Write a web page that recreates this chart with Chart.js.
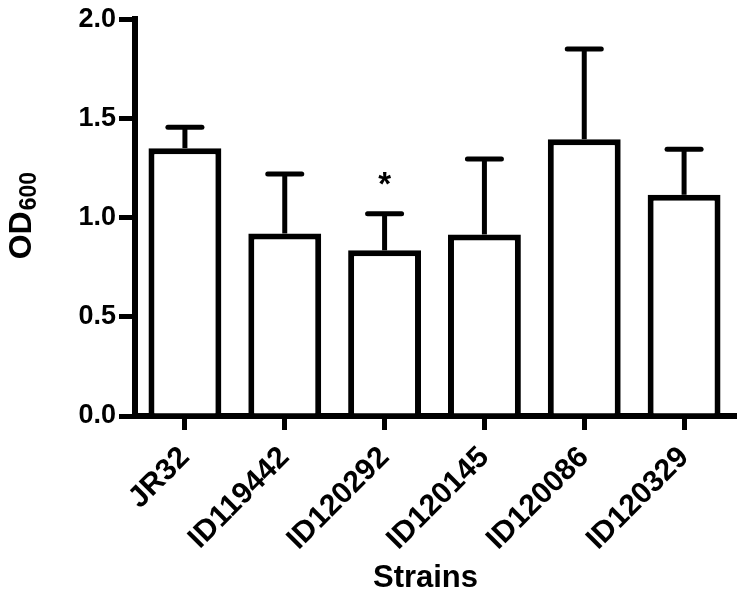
<!DOCTYPE html>
<html>
<head>
<meta charset="utf-8">
<script src="https://cdn.jsdelivr.net/npm/chart.js@4.4.1/dist/chart.umd.min.js"></script>
<style>
  html, body { margin: 0; padding: 0; background: #fff; }
  #wrap { width: 741px; height: 597px; }
</style>
</head>
<body>
<div id="wrap"><canvas id="c" width="741" height="597"></canvas></div>
<script>
// ---- data ----
const strains = ['JR32', 'ID119442', 'ID120292', 'ID120145', 'ID120086', 'ID120329'];
const od600 = [1.35, 0.92, 0.835, 0.915, 1.395, 1.115];
const od600Error = [0.105, 0.30, 0.185, 0.38, 0.455, 0.23];
const significance = ['', '', '*', '', '', ''];
const yTicks = [0, 0.5, 1.0, 1.5, 2.0];

const FONT = '"Liberation Sans", Arial, Helvetica, sans-serif';

const errorBarPlugin = {
  id: 'errorBars',
  afterDatasetsDraw(chart) {
    const ctx = chart.ctx;
    const meta = chart.getDatasetMeta(0);
    const y = chart.scales.y;
    ctx.save();
    ctx.strokeStyle = '#000';
    ctx.fillStyle = '#000';
    meta.data.forEach((bar, i) => {
      const x = bar.x;
      const yTop = y.getPixelForValue(od600[i]);
      const yErr = y.getPixelForValue(od600[i] + od600Error[i]);
      ctx.lineWidth = 5;
      ctx.beginPath();
      ctx.moveTo(x, yTop);
      ctx.lineTo(x, yErr);
      ctx.stroke();
      ctx.lineCap = 'round';
      ctx.beginPath();
      ctx.moveTo(x - 17, yErr);
      ctx.lineTo(x + 17, yErr);
      ctx.stroke();
      ctx.lineCap = 'butt';
      if (significance[i]) {
        ctx.font = 'bold 33px ' + FONT;
        ctx.textAlign = 'center';
        ctx.textBaseline = 'alphabetic';
        ctx.fillText(significance[i], x, yErr - 19);
      }
    });
    ctx.restore();
  }
};

const axisTitlePlugin = {
  id: 'axisTitles',
  afterDraw(chart) {
    const ctx = chart.ctx;
    const area = chart.chartArea;
    ctx.save();
    ctx.fillStyle = '#000';
    // Y title: OD with subscript 600
    const mainFont = 'bold 32px ' + FONT;
    const subFont = 'bold 23px ' + FONT;
    ctx.font = mainFont;
    const w1 = ctx.measureText('OD').width;
    ctx.font = subFont;
    const w2 = ctx.measureText('600').width;
    const total = w1 + w2 + 1;
    const cy = (area.top + area.bottom) / 2 - 2;
    ctx.translate(31, cy + total / 2);
    ctx.rotate(-Math.PI / 2);
    ctx.textAlign = 'left';
    ctx.textBaseline = 'alphabetic';
    ctx.font = mainFont;
    ctx.fillText('OD', 0, 0);
    ctx.font = subFont;
    ctx.fillText('600', w1 + 1, 5);
    ctx.restore();

    // X title
    ctx.save();
    ctx.fillStyle = '#000';
    ctx.font = 'bold 31px ' + FONT;
    ctx.textAlign = 'center';
    ctx.textBaseline = 'middle';
    ctx.fillText('Strains', (area.left + area.right) / 2 - 9, 578);
    ctx.restore();
  }
};

new Chart(document.getElementById('c'), {
  type: 'bar',
  data: {
    labels: strains,
    datasets: [{
      data: od600,
      backgroundColor: '#ffffff',
      borderColor: '#000000',
      borderWidth: 6,
      borderSkipped: 'start',
      categoryPercentage: 1.0,
      barPercentage: 0.73
    }]
  },
  options: {
    responsive: false,
    animation: false,
    events: [],
    layout: { padding: { top: 16, right: 7, bottom: 0, left: 0 } },
    plugins: {
      legend: { display: false },
      tooltip: { enabled: false },
      title: { display: false }
    },
    scales: {
      x: {
        type: 'category',
        grid: {
          display: true,
          offset: false,
          drawOnChartArea: false,
          drawTicks: true,
          tickLength: 14,
          lineWidth: 5,
          color: '#000'
        },
        border: { display: true, color: '#000', width: 6 },
        ticks: {
          autoSkip: false,
          maxRotation: 45,
          minRotation: 45,
          padding: 10,
          color: '#000',
          font: { family: FONT, size: 30, weight: 'bold' }
        },
        afterFit(scale) { scale.height = 181; }
      },
      y: {
        min: 0,
        max: 2,
        afterBuildTicks(scale) { scale.ticks = yTicks.map(v => ({ value: v })); },
        grid: {
          display: true,
          drawOnChartArea: false,
          drawTicks: true,
          tickLength: 16,
          lineWidth: 5,
          color: '#000'
        },
        border: { display: true, color: '#000', width: 6 },
        ticks: {
          padding: 3,
          color: '#000',
          font: { family: FONT, size: 27, weight: 'bold' },
          callback: (v) => Number(v).toFixed(1)
        },
        afterFit(scale) { scale.width = 135; }
      }
    }
  },
  plugins: [errorBarPlugin, axisTitlePlugin]
});
</script>
</body>
</html>
